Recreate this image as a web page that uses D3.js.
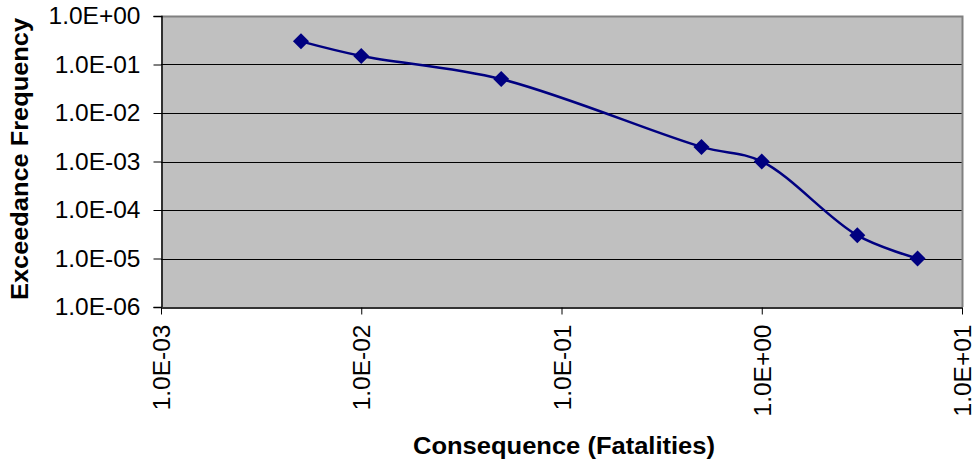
<!DOCTYPE html>
<html>
<head>
<meta charset="utf-8">
<script src="https://cdn.jsdelivr.net/npm/d3@7"></script>
<style>
  html, body { margin: 0; padding: 0; background: #ffffff; }
  svg { display: block; }
  text { font-family: "Liberation Sans", Arial, sans-serif; }
</style>
</head>
<body>
<svg id="chart" width="972" height="462"></svg>
<script>
// ---- data ----
const consequence = [0.005, 0.01, 0.05, 0.5, 1, 3, 6];
const frequency   = [0.3, 0.15, 0.05, 0.002, 0.001, 3e-5, 1e-5];
const xTicks = [1e-3, 1e-2, 1e-1, 1e0, 1e1];
const yTicks = [1e-6, 1e-5, 1e-4, 1e-3, 1e-2, 1e-1, 1e0];
const xTitle = "Consequence (Fatalities)";
const yTitle = "Exceedance Frequency";

// ---- layout ----
const svg = d3.select("#chart");
const pLeft = 161, pRight = 962, pTop = 16, pBottom = 307;

const x = d3.scaleLog().domain([1e-3, 10]).range([pLeft, pRight]);
const y = d3.scaleLog().domain([1e-6, 1]).range([pBottom, pTop]);

function sci(v) {
  const e = Math.round(Math.log10(v));
  const m = v / Math.pow(10, e);
  const s = (e < 0 ? "-" : "+") + String(Math.abs(e)).padStart(2, "0");
  return m.toFixed(1) + "E" + s;
}

// plot background
svg.append("rect")
  .attr("x", pLeft).attr("y", pTop)
  .attr("width", pRight - pLeft).attr("height", pBottom - pTop)
  .attr("fill", "#c0c0c0");

// gridlines
svg.append("g").selectAll("line")
  .data(yTicks.filter(v => v > 1e-6 && v < 1))
  .join("line")
  .attr("x1", pLeft).attr("x2", pRight)
  .attr("y1", d => Math.round(y(d)) + 0.5).attr("y2", d => Math.round(y(d)) + 0.5)
  .attr("stroke", "#000").attr("stroke-width", 1);

// plot border (top/right gray)
svg.append("path")
  .attr("d", `M${pLeft},${pTop + 0.5}H${pRight + 0.5}V${pBottom}`)
  .attr("fill", "none").attr("stroke", "#808080").attr("stroke-width", 2);

// y axis
const yAxis = d3.axisLeft(y).tickValues(yTicks).tickFormat(sci).tickSize(8).tickPadding(13);
const gy = svg.append("g").attr("transform", `translate(${pLeft + 0.5},0)`).call(yAxis);
gy.select(".domain").attr("stroke", "#000").attr("stroke-width", 1.5);
gy.selectAll(".tick line").attr("stroke", "#000");
gy.selectAll(".tick text")
  .attr("font-size", 24.5).attr("fill", "#000")
  .attr("font-family", "Liberation Sans, Arial, sans-serif");

// x axis
const xAxis = d3.axisBottom(x).tickValues(xTicks).tickFormat(sci).tickSize(7).tickSizeOuter(0);
const gx = svg.append("g").attr("transform", `translate(0,${pBottom + 0.5})`).call(xAxis);
gx.select(".domain").attr("stroke", "#333").attr("stroke-width", 2);
gx.selectAll(".tick line").attr("stroke", "#000");
gx.selectAll(".tick text")
  .attr("font-size", 24.5).attr("fill", "#000")
  .attr("font-family", "Liberation Sans, Arial, sans-serif")
  .attr("text-anchor", "end")
  .attr("transform", "rotate(-90)")
  .attr("x", -17).attr("y", 0).attr("dy", "0.35em");

// line
const line = d3.line()
  .x((d, i) => x(consequence[i]))
  .y((d, i) => y(frequency[i]))
  .curve(d3.curveCatmullRom.alpha(0.5));

svg.append("path")
  .datum(consequence)
  .attr("d", line)
  .attr("fill", "none")
  .attr("stroke", "#000080")
  .attr("stroke-width", 2.5);

// markers
svg.append("g").selectAll("path")
  .data(consequence)
  .join("path")
  .attr("d", d3.symbol().type(d3.symbolSquare).size(128))
  .attr("transform", (d, i) => `translate(${x(d)},${y(frequency[i])}) rotate(45)`)
  .attr("fill", "#000080");

// titles
svg.append("text")
  .attr("x", 564).attr("y", 454)
  .attr("text-anchor", "middle")
  .attr("font-size", 24).attr("font-weight", "bold")
  .attr("textLength", 302).attr("lengthAdjust", "spacingAndGlyphs")
  .text(xTitle);

svg.append("text")
  .attr("transform", "translate(28,159) rotate(-90)")
  .attr("text-anchor", "middle")
  .attr("font-size", 24).attr("font-weight", "bold")
  .attr("textLength", 282).attr("lengthAdjust", "spacingAndGlyphs")
  .text(yTitle);
</script>
</body>
</html>
